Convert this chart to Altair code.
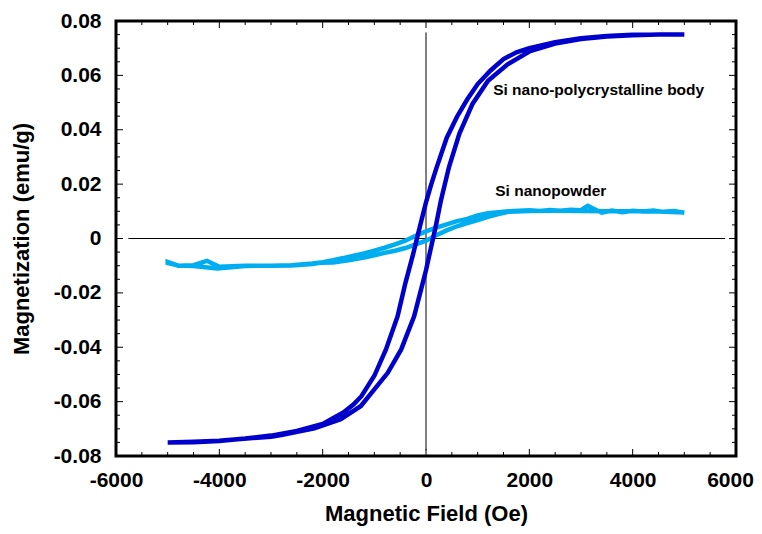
import altair as alt
import pandas as pd

# ---- Si nano-polycrystalline body (dark blue loop) ----
body_down_H = [5000, 4500, 4000, 3500, 3000, 2500, 2000, 1750, 1500, 1250, 1000, 800, 600, 400, 200, 100, 0,
               -100, -175, -250, -400, -550, -775, -1000, -1250, -1400, -1600, -2000, -2500, -3000, -3500,
               -4000, -4500, -5000]
body_down_M = [0.0750, 0.0750, 0.0749, 0.0745, 0.0737, 0.0722, 0.0700, 0.0685, 0.0660, 0.0618, 0.0568, 0.0512,
               0.0448, 0.0370, 0.0258, 0.0198, 0.0133, 0.0058, 0.0000, -0.0058, -0.0165, -0.0286, -0.0408,
               -0.0505, -0.0580, -0.0610, -0.0640, -0.0682, -0.0708, -0.0725, -0.0736, -0.0744, -0.0748, -0.0750]
body_up_H = [-5000, -4500, -4000, -3700, -3000, -2800, -2160, -1650, -1260, -1000, -740, -480, -230, -100, 0,
             100, 136, 200, 290, 445, 645, 900, 1200, 1580, 2000, 2500, 3000, 3500, 4000, 4500, 5000]
body_up_M = [-0.0750, -0.0749, -0.0745, -0.0739, -0.0729, -0.0723, -0.0698, -0.0665, -0.0616, -0.0555, -0.0494,
             -0.0408, -0.0286, -0.0191, -0.0117, -0.0030, 0.0000, 0.0055, 0.0141, 0.0263, 0.0385, 0.0495,
             0.0580, 0.0641, 0.0688, 0.0717, 0.0734, 0.0743, 0.0748, 0.0750, 0.0750]

# ---- Si nanopowder (light blue loop) ----
powder_down_H = [5000, 4800, 4600, 4400, 4200, 4000, 3800, 3600, 3400, 3130, 3000, 2800, 2600, 2400, 2200, 2000,
                 1800, 1600, 1400, 1200, 1000, 800, 600, 400, 200, 0, -200, -400, -600, -800, -1000, -1200,
                 -1400, -1600, -1800, -2000, -2200, -2600, -3000, -3500, -4000, -4240, -4500, -4800, -5000]
powder_down_M = [0.0095, 0.0101, 0.0098, 0.0103, 0.0099, 0.0102, 0.0097, 0.0103, 0.0095, 0.0120, 0.0104, 0.0106,
                 0.0102, 0.0105, 0.0101, 0.0104, 0.0102, 0.0100, 0.0097, 0.0093, 0.0085, 0.0072, 0.0064, 0.0052,
                 0.0040, 0.0026, 0.0010, -0.0008, -0.0022, -0.0034, -0.0045, -0.0055, -0.0063, -0.0072, -0.0080,
                 -0.0087, -0.0092, -0.0098, -0.0100, -0.0100, -0.0104, -0.0082, -0.0098, -0.0100, -0.0086]
powder_up_H = [-5000, -4800, -4500, -4040, -3500, -3000, -2600, -2200, -2050, -1800, -1500, -1200, -1000, -800,
               -600, -400, -200, 0, 200, 400, 600, 800, 1000, 1200, 1400, 1600, 2000, 2500, 3000, 3500, 4000,
               4500, 5000]
powder_up_M = [-0.0090, -0.0099, -0.0101, -0.0110, -0.0101, -0.0100, -0.0099, -0.0094, -0.0089, -0.0088, -0.0080,
               -0.0070, -0.0062, -0.0053, -0.0045, -0.0035, -0.0022, -0.0008, 0.0012, 0.0030, 0.0045, 0.0057,
               0.0068, 0.0080, 0.0090, 0.0098, 0.0101, 0.0102, 0.0101, 0.0100, 0.0101, 0.0099, 0.0096]

# ---- axes ----
x_major = [-6000, -4000, -2000, 0, 2000, 4000, 6000]
x_minor = [-5500, -5000, -4500, -3500, -3000, -2500, -1500, -1000, -500, 500, 1000, 1500,
           2500, 3000, 3500, 4500, 5000, 5500]
y_major = [-0.08, -0.06, -0.04, -0.02, 0, 0.02, 0.04, 0.06, 0.08]
y_minor = [-0.075, -0.07, -0.065, -0.055, -0.05, -0.045, -0.035, -0.03, -0.025, -0.015, -0.01, -0.005,
           0.005, 0.01, 0.015, 0.025, 0.03, 0.035, 0.045, 0.05, 0.055, 0.065, 0.07, 0.075]

labels_text = ["Si nano-polycrystalline body", "Si nanopowder"]
labels_H = [1300, 1340]
labels_M = [0.0545, 0.0174]

W, H = 620, 435
FONT = "Liberation Sans"
DARK = "#0000CC"
LIGHT = "#00AEEF"


def branch_df(hs, ms, offset):
    return pd.DataFrame({"H": hs, "M": ms, "i": [offset + k for k in range(len(hs))]})


body_df = pd.concat([branch_df(body_down_H, body_down_M, 0),
                     branch_df(body_up_H, body_up_M, 1000)])
powder_df = pd.concat([branch_df(powder_down_H, powder_down_M, 0),
                       branch_df(powder_up_H, powder_up_M, 1000)])

xs = alt.Scale(domain=[-6000, 6000], nice=False, zero=False)
ys = alt.Scale(domain=[-0.08, 0.08], nice=False, zero=False)

x_axis = alt.Axis(values=x_major, labelExpr="'' + datum.value", grid=False, ticks=False, domain=False,
                  labelFont=FONT, labelFontSize=21, labelFontWeight="bold", labelColor="black",
                  labelPadding=13, labelOffset={"expr": "datum.value >= 6000 ? -6 : 0"},
                  title="Magnetic Field (Oe)", titleFont=FONT, titleFontSize=22,
                  titleFontWeight="bold", titleColor="black", titlePadding=13, labelFlush=False)
y_axis = alt.Axis(values=y_major, labelExpr="'' + datum.value", grid=False, ticks=False, domain=False,
                  labelFont=FONT, labelFontSize=21, labelFontWeight="bold", labelColor="black",
                  labelPadding=15, title="Magnetization (emu/g)", titleFont=FONT, titleFontSize=22,
                  titleFontWeight="bold", titleColor="black", titlePadding=20, labelFlush=False)

base_x = alt.X("H:Q", scale=xs, axis=x_axis)
base_y = alt.Y("M:Q", scale=ys, axis=y_axis)

hline = alt.Chart(pd.DataFrame({"H": [-5760], "H2": [5790], "M": [0]})).mark_rule(
    color="black", strokeWidth=1).encode(x=base_x, x2="H2:Q", y=base_y)
vline = alt.Chart(pd.DataFrame({"H": [0], "M": [-0.0779], "M2": [0.0758]})).mark_rule(
    color="black", strokeWidth=1).encode(x=base_x, y=base_y, y2="M2:Q")

powder = alt.Chart(powder_df).mark_line(color=LIGHT, strokeWidth=4.5, interpolate="linear").encode(
    x=base_x, y=base_y, order="i:Q")
body = alt.Chart(body_df).mark_line(color=DARK, strokeWidth=4.5, interpolate="linear").encode(
    x=base_x, y=base_y, order="i:Q")

txt = alt.Chart(pd.DataFrame({"H": labels_H, "M": labels_M, "t": labels_text})).mark_text(
    align="left", baseline="middle", font=FONT, fontSize=15.5, fontWeight="bold", color="black").encode(
    x=base_x, y=base_y, text="t:N")


def xticks(vals, length):
    d = pd.DataFrame({"H": vals})
    top = alt.Chart(d).mark_rule(color="black", strokeWidth=1).encode(
        x=base_x, y=alt.value(0), y2=alt.value(length))
    bot = alt.Chart(d).mark_rule(color="black", strokeWidth=1).encode(
        x=base_x, y=alt.value(H), y2=alt.value(H - length))
    return [top, bot]


def yticks(vals, length):
    d = pd.DataFrame({"M": vals})
    left = alt.Chart(d).mark_rule(color="black", strokeWidth=1).encode(
        y=base_y, x=alt.value(0), x2=alt.value(length))
    right = alt.Chart(d).mark_rule(color="black", strokeWidth=1).encode(
        y=base_y, x=alt.value(W), x2=alt.value(W - length))
    return [left, right]


layers = [hline, vline] + xticks(x_major, 7) + xticks(x_minor, 4) + yticks(y_major, 7) + yticks(y_minor, 4) \
    + [powder, body, txt]

chart = alt.layer(*layers).properties(
    width=W, height=H,
    autosize=alt.AutoSizeParams(type="none"),
    padding={"left": 108, "top": 13, "right": 18, "bottom": 70},
    background="white",
).configure_view(stroke="black", strokeWidth=3)

chart.save("out.html", embed_options={"renderer": "svg", "actions": False})
